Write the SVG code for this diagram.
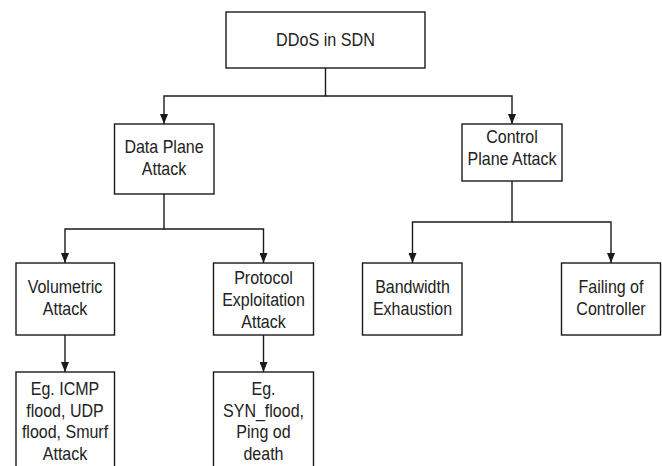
<svg xmlns="http://www.w3.org/2000/svg" width="662" height="466" viewBox="0 0 662 466">
  <style>
    .box { fill: #ffffff; stroke: #1a1a1a; stroke-width: 1.4; }
    .lbl { font-family: "Liberation Sans", Arial, sans-serif; font-size: 18px; fill: #222222; text-anchor: middle; }
    .wire { fill: none; stroke: #1a1a1a; stroke-width: 1.4; }
  </style>
  <defs>
    <marker id="arrow" viewBox="0 0 10 8" refX="10" refY="4" markerWidth="10" markerHeight="8" markerUnits="userSpaceOnUse" orient="auto">
      <path d="M0,0 L10,4 L0,8 z" fill="#1a1a1a"/>
    </marker>
  </defs>
  <rect width="662" height="466" fill="#ffffff"/>

  <!-- connectors -->
  <g id="connectors">
    <path class="wire" d="M325.5,68 V96 H164 V124" marker-end="url(#arrow)"/>
    <path class="wire" d="M325.5,96 H512 V124" marker-end="url(#arrow)"/>
    <path class="wire" d="M164,194 V229 H65 V263" marker-end="url(#arrow)"/>
    <path class="wire" d="M164,229 H263.5 V263" marker-end="url(#arrow)"/>
    <path class="wire" d="M512,181 V222 H412.5 V263" marker-end="url(#arrow)"/>
    <path class="wire" d="M512,222 H611 V263" marker-end="url(#arrow)"/>
    <path class="wire" d="M65,335 V372" marker-end="url(#arrow)"/>
    <path class="wire" d="M263.5,335 V372" marker-end="url(#arrow)"/>
  </g>

  <!-- labels use a slightly condensed face: translate to the box centre, squeeze horizontally -->
  <g id="ddos-in-sdn">
    <rect class="box" x="226" y="12" width="199" height="56"/>
    <text class="lbl" transform="translate(325.5 0) scale(0.9 1)" x="0" y="46">DDoS in SDN</text>
  </g>

  <g id="data-plane-attack">
    <rect class="box" x="114.5" y="124" width="99.5" height="70"/>
    <text class="lbl" transform="translate(164 0) scale(0.89 1)" x="0" y="153">Data Plane</text>
    <text class="lbl" transform="translate(164 0) scale(0.89 1)" x="0" y="175">Attack</text>
  </g>

  <g id="control-plane-attack">
    <rect class="box" x="462" y="124" width="100" height="57"/>
    <text class="lbl" transform="translate(512 0) scale(0.89 1)" x="0" y="143.5">Control</text>
    <text class="lbl" transform="translate(512 0) scale(0.89 1)" x="0" y="165.5">Plane Attack</text>
  </g>

  <g id="volumetric-attack">
    <rect class="box" x="16" y="263" width="98.5" height="72"/>
    <text class="lbl" transform="translate(65 0) scale(0.89 1)" x="0" y="293">Volumetric</text>
    <text class="lbl" transform="translate(65 0) scale(0.89 1)" x="0" y="315">Attack</text>
  </g>

  <g id="protocol-exploitation-attack">
    <rect class="box" x="213.5" y="263" width="100" height="72"/>
    <text class="lbl" transform="translate(263.5 0) scale(0.89 1)" x="0" y="284">Protocol</text>
    <text class="lbl" transform="translate(263.5 0) scale(0.89 1)" x="0" y="306">Exploitation</text>
    <text class="lbl" transform="translate(263.5 0) scale(0.89 1)" x="0" y="328">Attack</text>
  </g>

  <g id="bandwidth-exhaustion">
    <rect class="box" x="362.5" y="263" width="99.5" height="72"/>
    <text class="lbl" transform="translate(412.5 0) scale(0.89 1)" x="0" y="293">Bandwidth</text>
    <text class="lbl" transform="translate(412.5 0) scale(0.89 1)" x="0" y="315">Exhaustion</text>
  </g>

  <g id="failing-of-controller">
    <rect class="box" x="561.5" y="263" width="99" height="72"/>
    <text class="lbl" transform="translate(611 0) scale(0.89 1)" x="0" y="293">Failing of</text>
    <text class="lbl" transform="translate(611 0) scale(0.89 1)" x="0" y="315">Controller</text>
  </g>

  <g id="volumetric-examples">
    <rect class="box" x="16" y="372" width="98.5" height="100"/>
    <text class="lbl" transform="translate(65 0) scale(0.89 1)" x="0" y="395.5">Eg. ICMP</text>
    <text class="lbl" transform="translate(65 0) scale(0.89 1)" x="0" y="417">flood, UDP</text>
    <text class="lbl" transform="translate(65 0) scale(0.89 1)" x="0" y="438.5">flood, Smurf</text>
    <text class="lbl" transform="translate(65 0) scale(0.89 1)" x="0" y="460">Attack</text>
  </g>

  <g id="protocol-examples">
    <rect class="box" x="213.5" y="372" width="100" height="100"/>
    <text class="lbl" transform="translate(263.5 0) scale(0.89 1)" x="0" y="395.5">Eg.</text>
    <text class="lbl" transform="translate(263.5 0) scale(0.89 1)" x="0" y="417">SYN_flood,</text>
    <text class="lbl" transform="translate(263.5 0) scale(0.89 1)" x="0" y="438.5">Ping od</text>
    <text class="lbl" transform="translate(263.5 0) scale(0.89 1)" x="0" y="460">death</text>
  </g>
</svg>
